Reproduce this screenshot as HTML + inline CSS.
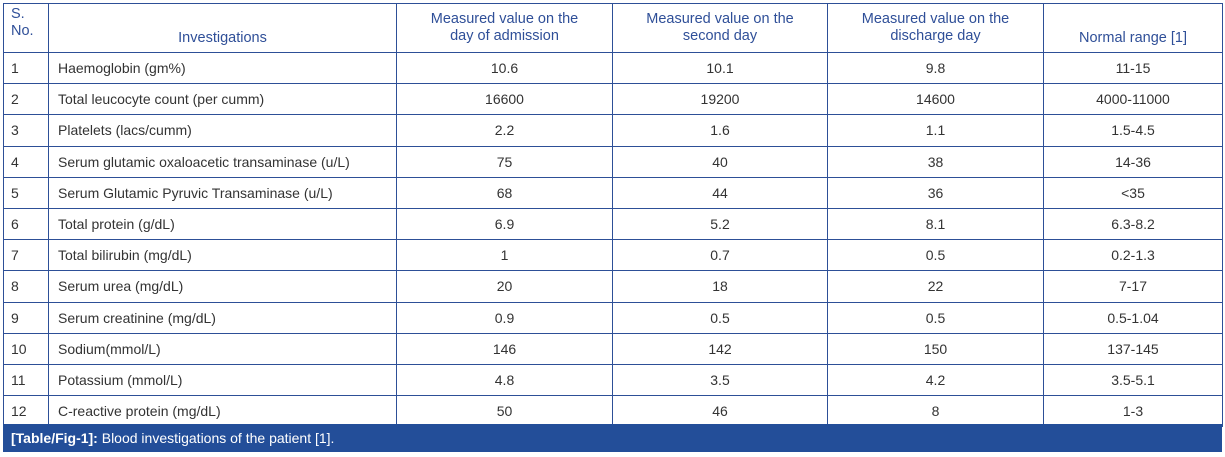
<!DOCTYPE html>
<html><head><meta charset="utf-8"><style>
body{margin:0;background:#fff;width:1225px;height:457px;overflow:hidden;font-family:"Liberation Sans",Arial,sans-serif;}
table{position:absolute;left:3px;top:3px;border-collapse:collapse;table-layout:fixed;width:1219px;}
td,th{border:1px solid #2d4f97;font-size:14px;color:#333;padding:0 6px;height:30.2px;text-align:center;font-weight:normal;white-space:nowrap;}
th{color:#2f4f98;height:43px;line-height:17px;font-size:14.5px;}
td.l{text-align:left;padding-left:9px;}
td.n{text-align:left;padding-left:7px;}
th.s{text-align:left;vertical-align:top;padding-top:2px;padding-left:7px;}
.cap{position:absolute;left:3px;top:424px;width:1219px;height:28px;background:#234e99;color:#fff;font-size:14px;line-height:28px;padding-left:8px;box-sizing:border-box;}
</style></head><body>
<table>
<colgroup><col style="width:45px"><col style="width:348px"><col style="width:216px"><col style="width:215px"><col style="width:216px"><col style="width:179px"></colgroup>
<tr><th class="s">S.<br>No.</th><th style="vertical-align:bottom;padding-bottom:5px">Investigations</th><th>Measured value on the<br>day of admission</th><th>Measured value on the<br>second day</th><th>Measured value on the<br>discharge day</th><th style="vertical-align:bottom;padding-bottom:5px">Normal range [1]</th></tr>
<tr><td class="n">1</td><td class="l">Haemoglobin (gm%)</td><td>10.6</td><td>10.1</td><td>9.8</td><td>11-15</td></tr>
<tr><td class="n">2</td><td class="l">Total leucocyte count (per cumm)</td><td>16600</td><td>19200</td><td>14600</td><td>4000-11000</td></tr>
<tr><td class="n">3</td><td class="l">Platelets (lacs/cumm)</td><td>2.2</td><td>1.6</td><td>1.1</td><td>1.5-4.5</td></tr>
<tr><td class="n">4</td><td class="l">Serum glutamic oxaloacetic transaminase (u/L)</td><td>75</td><td>40</td><td>38</td><td>14-36</td></tr>
<tr><td class="n">5</td><td class="l">Serum Glutamic Pyruvic Transaminase (u/L)</td><td>68</td><td>44</td><td>36</td><td>&lt;35</td></tr>
<tr><td class="n">6</td><td class="l">Total protein (g/dL)</td><td>6.9</td><td>5.2</td><td>8.1</td><td>6.3-8.2</td></tr>
<tr><td class="n">7</td><td class="l">Total bilirubin (mg/dL)</td><td>1</td><td>0.7</td><td>0.5</td><td>0.2-1.3</td></tr>
<tr><td class="n">8</td><td class="l">Serum urea (mg/dL)</td><td>20</td><td>18</td><td>22</td><td>7-17</td></tr>
<tr><td class="n">9</td><td class="l">Serum creatinine (mg/dL)</td><td>0.9</td><td>0.5</td><td>0.5</td><td>0.5-1.04</td></tr>
<tr><td class="n">10</td><td class="l">Sodium(mmol/L)</td><td>146</td><td>142</td><td>150</td><td>137-145</td></tr>
<tr><td class="n">11</td><td class="l">Potassium (mmol/L)</td><td>4.8</td><td>3.5</td><td>4.2</td><td>3.5-5.1</td></tr>
<tr><td class="n">12</td><td class="l">C-reactive protein (mg/dL)</td><td>50</td><td>46</td><td>8</td><td>1-3</td></tr>
</table>
<div class="cap"><b>[Table/Fig-1]:</b> Blood investigations of the patient [1].</div>
</body></html>
